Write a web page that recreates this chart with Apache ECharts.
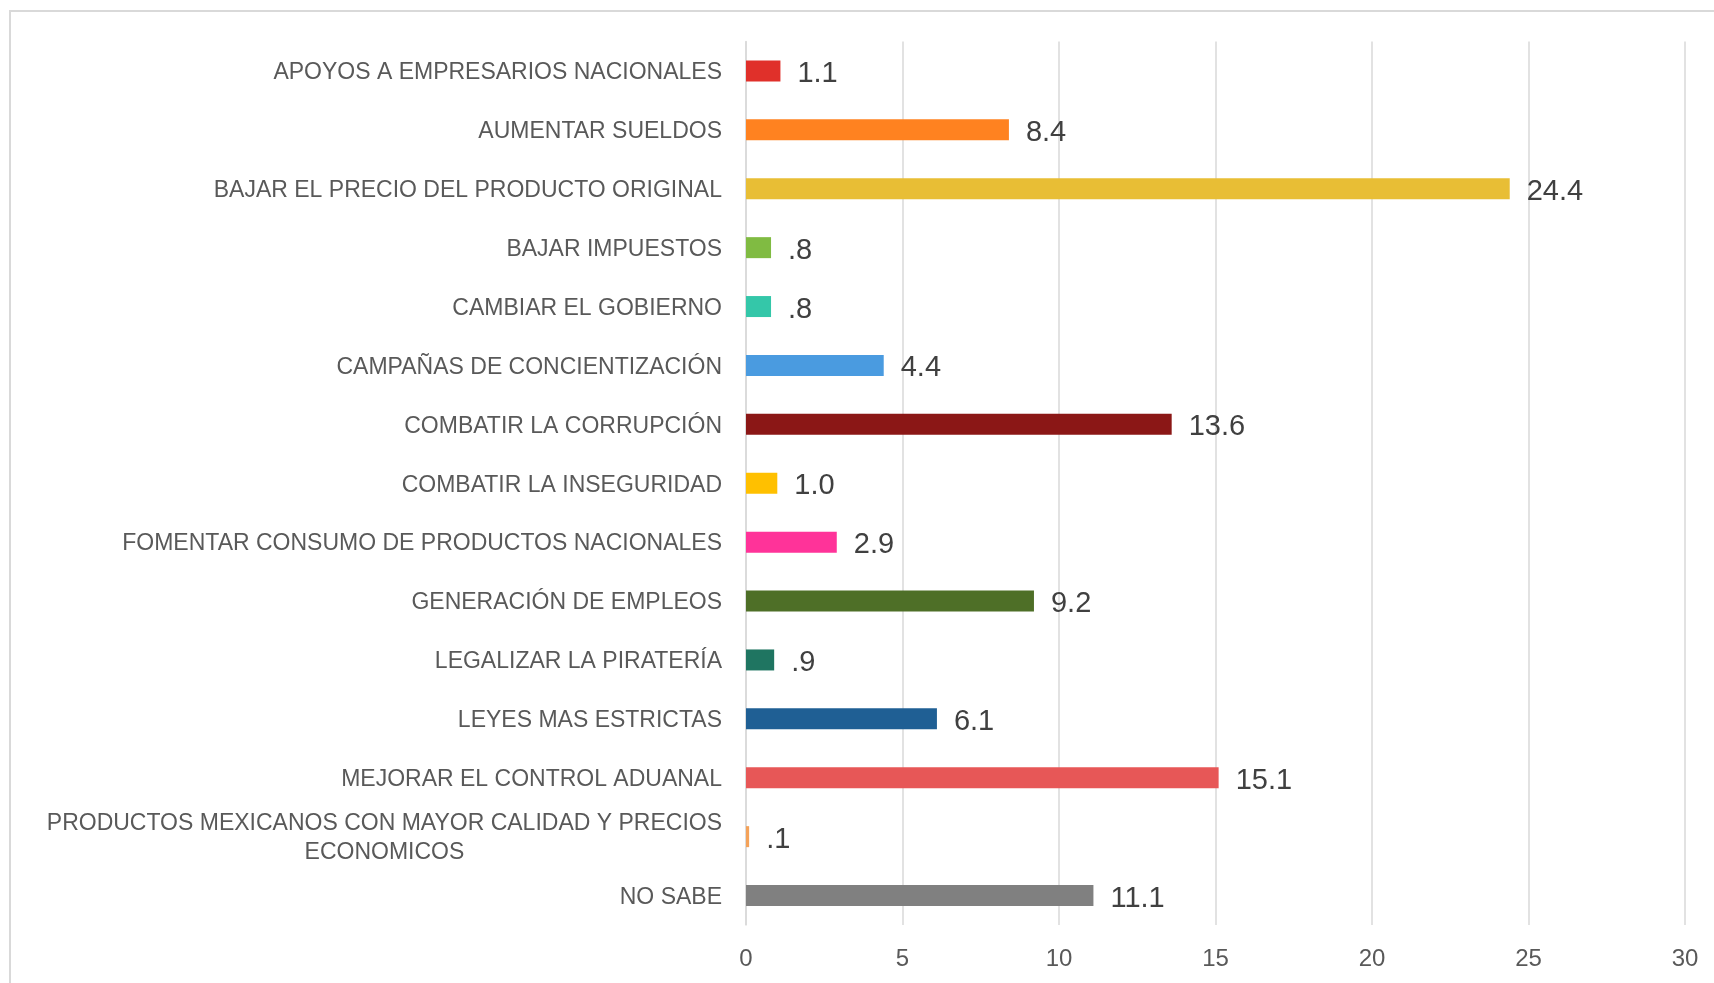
<!DOCTYPE html>
<html>
<head>
<meta charset="utf-8">
<script src="https://cdn.jsdelivr.net/npm/echarts@6/dist/echarts.min.js"></script>
<style>
  html, body { margin: 0; padding: 0; background: #fff; }
  #chart { width: 1714px; height: 983px; }
</style>
</head>
<body>
<div id="chart"></div>
<script>
// categorias de arriba hacia abajo
var categories = [
  'APOYOS A EMPRESARIOS NACIONALES',
  'AUMENTAR SUELDOS',
  'BAJAR EL PRECIO DEL PRODUCTO ORIGINAL',
  'BAJAR IMPUESTOS',
  'CAMBIAR EL GOBIERNO',
  'CAMPAÑAS DE CONCIENTIZACIÓN',
  'COMBATIR LA CORRUPCIÓN',
  'COMBATIR LA INSEGURIDAD',
  'FOMENTAR CONSUMO DE PRODUCTOS NACIONALES',
  'GENERACIÓN DE EMPLEOS',
  'LEGALIZAR LA PIRATERÍA',
  'LEYES MAS ESTRICTAS',
  'MEJORAR EL CONTROL ADUANAL',
  'PRODUCTOS MEXICANOS CON MAYOR CALIDAD Y PRECIOS\nECONOMICOS',
  'NO SABE'
];
var values = [1.1, 8.4, 24.4, 0.8, 0.8, 4.4, 13.6, 1.0, 2.9, 9.2, 0.9, 6.1, 15.1, 0.1, 11.1];
var colors = [
  '#e0302a', '#ff8220', '#e8be35', '#80bb42', '#34c7a9',
  '#4a9be0', '#8b1716', '#ffc000', '#ff3399', '#4e6f27',
  '#1f7561', '#1f5f94', '#e75757', '#f4a259', '#808080'
];
var xTicks = [0, 5, 10, 15, 20, 25, 30];

var chart = echarts.init(document.getElementById('chart'));

var option = {
  animation: false,
  graphic: [{
    type: 'rect',
    shape: { x: 10, y: 11, width: 1720, height: 1000 },
    style: { fill: 'none', stroke: '#d9d9d9', lineWidth: 2 },
    silent: true
  }],
  grid: { left: 746, right: 29, top: 41.5, bottom: 58 },
  xAxis: {
    type: 'value',
    min: xTicks[0],
    max: xTicks[xTicks.length - 1],
    interval: 5,
    axisLine: { show: false },
    axisTick: { show: false },
    splitLine: { show: true, lineStyle: { color: '#d9d9d9', width: 1.5 } },
    axisLabel: {
      color: '#595959',
      fontFamily: 'Liberation Sans',
      fontSize: 24,
      margin: 22
    }
  },
  yAxis: {
    type: 'category',
    inverse: true,
    data: categories,
    axisLine: { show: true, lineStyle: { color: '#d9d9d9', width: 1.5 } },
    axisTick: { show: false },
    axisLabel: {
      color: '#595959',
      fontFamily: 'Liberation Sans',
      fontSize: 23,
      margin: 24,
      lineHeight: 29,
      padding: [4, 0, 0, 0],
      formatter: function (v) {
        var parts = v.split('\n');
        if (parts.length === 1) return v;
        return '{a|' + parts[0] + '}\n{b|' + parts[1] + '}';
      },
      rich: {
        a: { color: '#595959', fontFamily: 'Liberation Sans', fontSize: 23, lineHeight: 29 },
        b: { color: '#595959', fontFamily: 'Liberation Sans', fontSize: 23, lineHeight: 29, align: 'center' }
      }
    }
  },
  series: [{
    type: 'bar',
    barWidth: 21,
    data: values.map(function (v, i) {
      return { value: v, itemStyle: { color: colors[i] } };
    }),
    label: {
      show: true,
      position: 'right',
      distance: 17,
      offset: [0, 3],
      color: '#404040',
      fontFamily: 'Liberation Sans',
      fontSize: 29,
      formatter: function (p) {
        return p.value.toFixed(1).replace(/^0\./, '.');
      }
    }
  }]
};

chart.setOption(option);
</script>
</body>
</html>
